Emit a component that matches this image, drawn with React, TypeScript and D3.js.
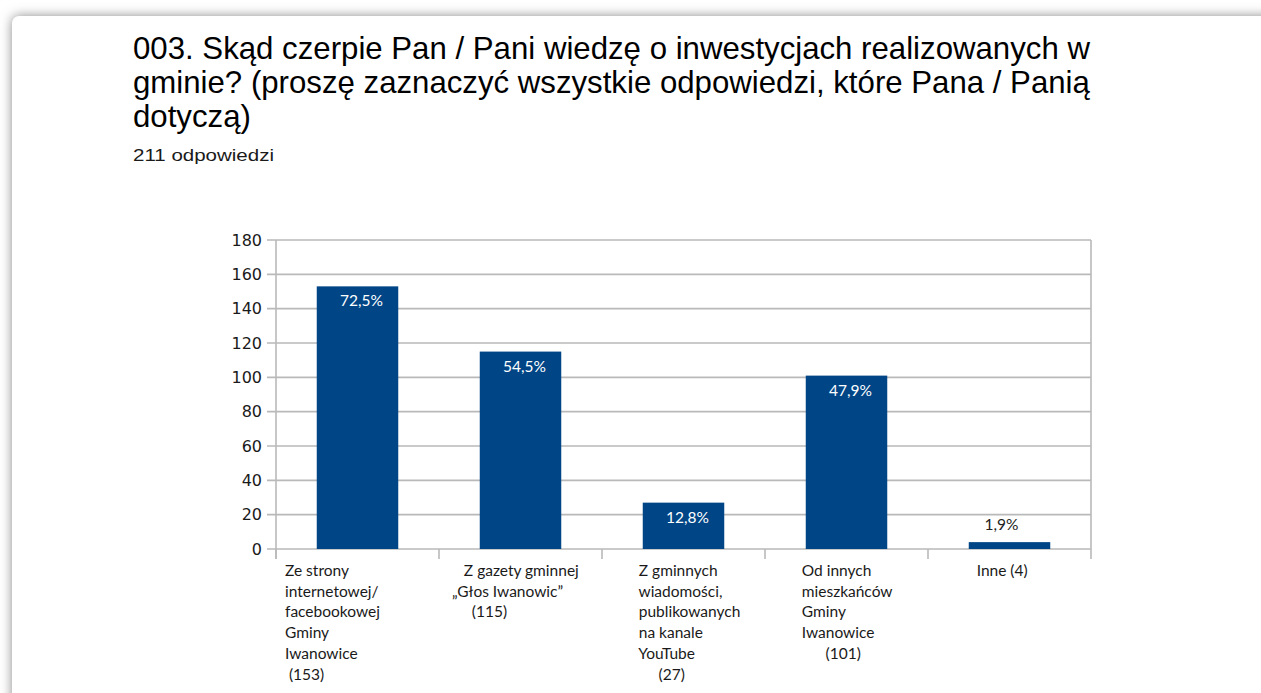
import React from "react";
import * as d3 from "d3";

const categories = ["strona", "gazeta", "youtube", "mieszkancy", "inne"];
const counts = [153, 115, 27, 101, 4];
const percentLabels = ["72,5%", "54,5%", "12,8%", "47,9%", "1,9%"];
const yTicks = [0, 20, 40, 60, 80, 100, 120, 140, 160, 180];
const titleLines = [
  "003. Skąd czerpie Pan / Pani wiedzę o inwestycjach realizowanych w",
  "gminie? (proszę zaznaczyć wszystkie odpowiedzi, które Pana / Panią",
  "dotyczą)",
];
const subtitle = "211 odpowiedzi";
const sp = (n: number) => "\u00a0".repeat(n);
const categoryLines = [
  ["Ze strony", "internetowej/", "facebookowej", "Gminy", "Iwanowice", sp(1) + "(153)"],
  [sp(4) + "Z gazety gminnej", sp(1) + "„Głos Iwanowic”", sp(6) + "(115)"],
  [sp(7) + "Z gminnych", sp(7) + "wiadomości,", sp(7) + "publikowanych", sp(7) + "na kanale", sp(7) + "YouTube", sp(12) + "(27)"],
  [sp(7) + "Od innych", sp(7) + "mieszkańców", sp(7) + "Gminy", sp(7) + "Iwanowice", sp(13) + "(101)"],
  [sp(10) + "Inne (4)"],
];

const W = 1261;
const H = 693;
const plot = { left: 276, right: 1091, top: 240, bottom: 549 };
const gridColor = "#b9b9b9";
const barColor = "#004586";
const labelFont = "Lato, 'Open Sans', sans-serif";

export default function App() {
  const x = d3
    .scaleBand<string>()
    .domain(categories)
    .range([plot.left, plot.right])
    .paddingInner(0)
    .paddingOuter(0);
  const y = d3.scaleLinear().domain([0, 180]).range([plot.bottom, plot.top]);
  const bw = x.bandwidth();
  const boundaries = categories.map((c) => x(c) as number).concat([plot.right]);

  return (
    <svg
      width={W}
      height={H}
      style={{ position: "absolute", left: 0, top: 0, background: "#fff" }}
    >
      <defs>
        <filter id="shadow" filterUnits="userSpaceOnUse" x={-50} y={-50} width={2200} height={1200}>
          <feGaussianBlur stdDeviation="6" />
        </filter>
      </defs>
      <rect x={0} y={0} width={W} height={H} fill="#fff" />
      <rect x={12} y={16} width={2000} height={1000} rx={7} fill="#8a8a8a" filter="url(#shadow)" />
      <rect x={12} y={16} width={2000} height={1000} rx={7} fill="#fff" />

      {titleLines.map((t, i) => (
        <text
          key={i}
          x={133}
          y={58.5 + i * 34.2}
          fontFamily="'Liberation Sans', Arial, sans-serif"
          fontSize={31.2}
          fill="#000"
        >
          {t}
        </text>
      ))}
      <text
        x={133}
        y={160.5}
        fontFamily="'Liberation Sans', Arial, sans-serif"
        fontSize={16.5}
        textLength={141}
        lengthAdjust="spacingAndGlyphs"
        fill="#1a1a1a"
      >
        {subtitle}
      </text>

      {/* grid lines */}
      {yTicks.map((t) => (
        <g key={t}>
          <line x1={plot.left - 9} x2={plot.right} y1={y(t)} y2={y(t)} stroke={gridColor} strokeWidth={1.6} />
          <text
            x={plot.left - 14}
            y={y(t)}
            dy="0.36em"
            textAnchor="end"
            fontFamily="'DejaVu Sans', Verdana, sans-serif"
            fontSize={16}
            fill="#1a1a1a"
          >
            {t}
          </text>
        </g>
      ))}
      {/* axes */}
      <line x1={plot.left} x2={plot.left} y1={plot.top} y2={plot.bottom + 10} stroke={gridColor} strokeWidth={1.6} />
      {boundaries.map((b, i) => (
        <line
          key={i}
          x1={b}
          x2={b}
          y1={i === boundaries.length - 1 ? plot.top : plot.bottom}
          y2={plot.bottom + 10}
          stroke={gridColor}
          strokeWidth={1.6}
        />
      ))}

      {/* bars */}
      {categories.map((c, i) => {
        const bx = (x(c) as number) + bw / 4;
        const top = y(counts[i]);
        const h = plot.bottom - top;
        const inside = h > 30;
        return (
          <g key={c}>
            <rect x={bx} y={top} width={bw / 2} height={h} fill={barColor} />
            <text
              x={bx + bw / 4 + (inside ? 4 : -8)}
              y={inside ? top + 20 : top - 12}
              textAnchor="middle"
              fontFamily={labelFont}
              fontSize={15.5}
              fill={inside ? "#fff" : "#222"}
            >
              {percentLabels[i]}
            </text>
          </g>
        );
      })}

      {/* category labels */}
      {categories.map((c, i) => (
        <text
          key={c}
          x={(x(c) as number) + 9}
          y={576}
          fontFamily={labelFont}
          fontSize={15.5}
          fill="#1a1a1a"
          style={{ whiteSpace: "pre" }}
        >
          {categoryLines[i].map((l, j) => (
            <tspan key={j} x={(x(c) as number) + 9} y={576 + j * 20.7}>
              {l}
            </tspan>
          ))}
        </text>
      ))}
    </svg>
  );
}
